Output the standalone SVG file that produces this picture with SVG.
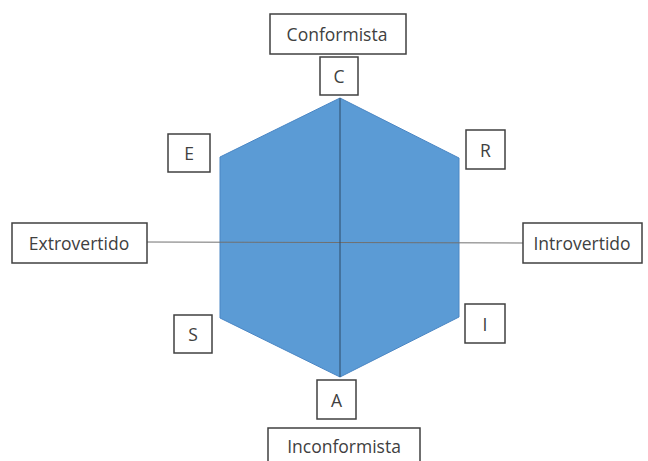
<svg xmlns="http://www.w3.org/2000/svg" width="648" height="461" viewBox="0 0 648 461">
<style>
.box{fill:#fff;stroke:#404040;stroke-width:1.5}
.t{font-family:"Open Sans","Liberation Sans",sans-serif;font-size:17.5px;fill:#404040;text-anchor:middle;dominant-baseline:central}
</style>
<rect width="648" height="461" fill="#fff"/>
<g id="hexagon">
<polygon points="340,98 459,158 459,317 340,377 220,318 220,157" fill="#5B9BD5" stroke="#4a86c4" stroke-width="1"/>
</g>
<g id="connectors">
<line x1="147" y1="242" x2="523" y2="243" stroke="#707070" stroke-width="1"/>
<line x1="340" y1="98" x2="340" y2="377" stroke="#2f4a66" stroke-width="1"/>
</g>
<g id="conformista"><rect class="box" x="270" y="14" width="136" height="40"/><text class="t" x="337" y="34">Conformista</text></g>
<g id="c"><rect class="box" x="320" y="57" width="38" height="38"/><text class="t" x="339" y="76">C</text></g>
<g id="extrovertido"><rect class="box" x="12" y="223" width="135" height="40"/><text class="t" x="79" y="243">Extrovertido</text></g>
<g id="introvertido"><rect class="box" x="523" y="223" width="119" height="40"/><text class="t" x="582" y="243">Introvertido</text></g>
<g id="e"><rect class="box" x="168" y="134" width="42" height="38"/><text class="t" x="189" y="153">E</text></g>
<g id="r"><rect class="box" x="466" y="130" width="39" height="39"/><text class="t" x="485.5" y="149.5">R</text></g>
<g id="s"><rect class="box" x="174" y="315" width="38" height="38"/><text class="t" x="193" y="334">S</text></g>
<g id="i"><rect class="box" x="465" y="304" width="40" height="39"/><text class="t" x="485" y="323.5">I</text></g>
<g id="a"><rect class="box" x="317" y="380" width="39" height="39"/><text class="t" x="336.5" y="399.5">A</text></g>
<g id="inconformista"><rect class="box" x="268" y="428" width="152" height="40"/><text class="t" x="344" y="446">Inconformista</text></g>
</svg>
